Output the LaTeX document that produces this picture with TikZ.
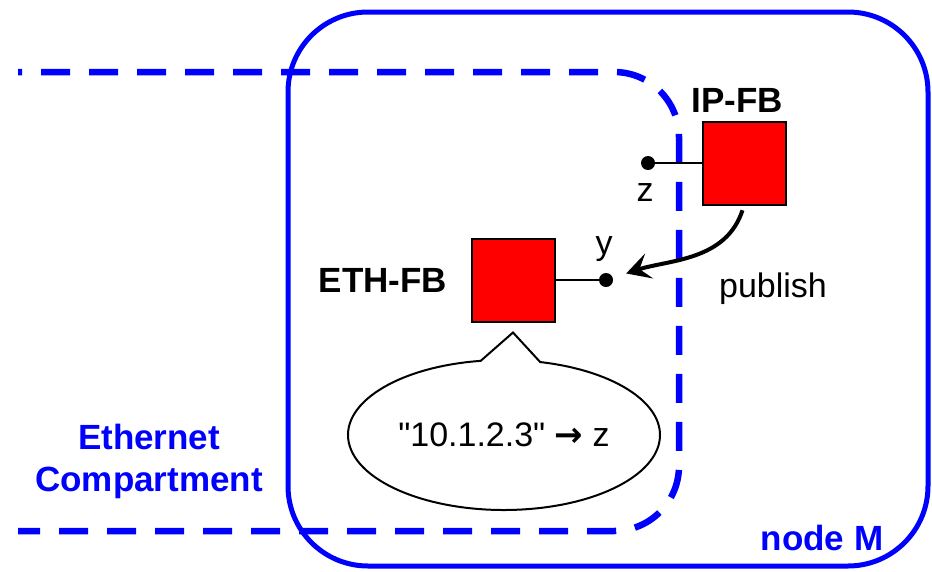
\documentclass[tikz,border=0pt]{standalone}
\usepackage{fontspec}
\setmainfont{Liberation Sans}
\newfontfamily\arrowfont{DejaVu Sans}
\usetikzlibrary{arrows.meta, positioning, shapes.callouts}

\begin{document}
\begin{tikzpicture}[
  x=1pt, y=-1pt,
  fb/.style={rectangle, draw, line width=2pt, fill=red, minimum size=83pt, inner sep=0pt},
  port/.style={circle, fill, inner sep=0pt, minimum size=14pt},
  lbl/.style={font=\fontsize{34}{40}\selectfont},
  blbl/.style={font=\fontsize{35}{42}\selectfont\bfseries},
  wire/.style={line width=2pt},
  arr/.style={-{Stealth[length=24pt, width=26pt, inset=10pt]}, line width=4pt}
]
  \useasboundingbox (0,0) rectangle (932,571);

  % node M frame
  \node[draw=blue, line width=5pt, rounded corners=80pt, minimum width=640pt,
        minimum height=554pt] (nodeM) at (608,289) {};
  \node[blbl, text=blue, anchor=south east, inner sep=0pt] (mlbl) at ([xshift=-47pt, yshift=17pt]nodeM.south east) {node M};

  % ethernet compartment (open to the left)
  \draw[blue, line width=6.5pt, dash pattern=on 29pt off 19pt, dash phase=25pt,
        rounded corners=65pt] (18,72) -- (679,72) -- (679,531) -- (18,531);
  \node[blbl, text=blue, align=center] (comp) at (149,461) {Ethernet\\Compartment};

  % function blocks
  \node[fb] (ip) at (744,163) {};
  \node[blbl, above=4pt of ip, xshift=-7pt] (iplbl) {IP-FB};
  \node[fb] (eth) at (513,280) {};
  \node[blbl, left=20pt of eth] (ethlbl) {ETH-FB};

  % ports
  \node[port] (z) at (648,163) {};
  \node[lbl, below=10pt of z, xshift=-3pt] (zlbl) {z};
  \node[port] (y) at (606,280) {};
  \node[lbl, above=8pt of y, xshift=-2pt] (ylbl) {y};
  \draw[wire] (ip.west) -- (z);
  \draw[wire] (eth.east) -- (y);

  % publish
  \draw[arr, shorten <=5pt, shorten >=14pt] (ip.south) to[out=-108, in=18] (y);
  \node[lbl] (pub) at (773,289) {publish};

  % address mapping
  \coordinate (tip) at ([yshift=-10pt]eth.south);
  \node[ellipse callout, draw, line width=2pt, minimum width=312pt, minimum height=150pt,
        callout absolute pointer={(tip)}, callout pointer arc=22, lbl] (map) at (504,435)
        {\textquotedbl 10.1.2.3\textquotedbl\ {\arrowfont\bfseries →} z};
\end{tikzpicture}
\end{document}
